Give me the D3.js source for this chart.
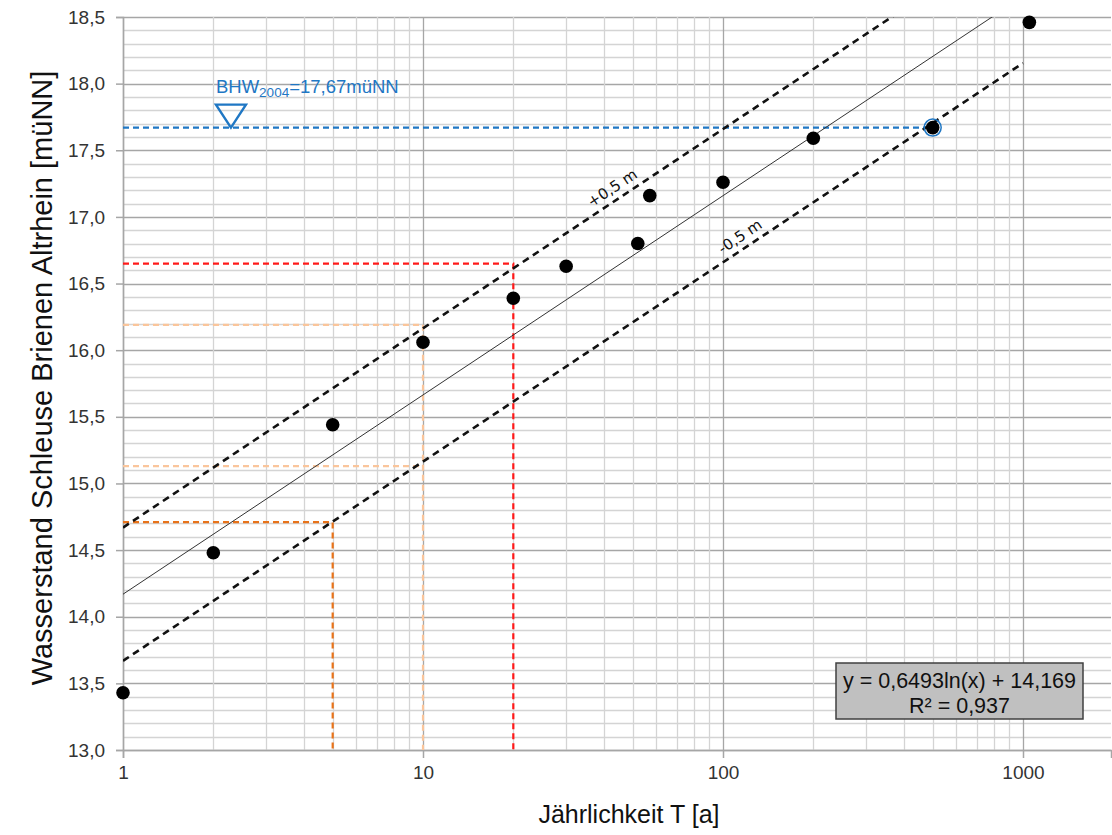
<!DOCTYPE html>
<html>
<head>
<meta charset="utf-8">
<title>Jährlichkeit</title>
<script src="https://d3js.org/d3.v7.min.js"></script>
<style>
  body { margin: 0; background: #fff; }
  svg { display: block; font-family: "Liberation Sans", Arial, sans-serif; }
</style>
</head>
<body>
<script>
// observed water levels vs. return period
var returnPeriods = [1, 2, 5, 10, 20, 30, 52, 57, 100, 200, 500, 1050];
var waterLevels   = [13.43, 14.48, 15.44, 16.06, 16.39, 16.63, 16.80, 17.16, 17.26, 17.59, 17.67, 18.46];

// fitted log trend y = a ln(x) + b, with +/- 0.5 m band
var trendA = 0.6493, trendB = 14.169;
var bandOffsets = [0.5, -0.5];
var bandLabels = ["+0,5 m", "-0,5 m"];
var bandLabelT = [45, 120];

// dashed read-off lines: [T, level]
var redMark = [20, 16.65];
var peachMarks = [[10, 16.19], [10, 15.13]];
var orangeMark = [5, 14.71];
var bhwLevel = 17.67, bhwT = 500, bhwSymbolT = 2.29;

var yTicks = [13.0, 13.5, 14.0, 14.5, 15.0, 15.5, 16.0, 16.5, 17.0, 17.5, 18.0, 18.5];
var xTicks = [1, 10, 100, 1000];

var W = 1112, H = 835;
var pLeft = 123, pRight = 1111, pTop = 17, pBottom = 750;

var svg = d3.select("body").append("svg").attr("width", W).attr("height", H);

var x = d3.scaleLog().domain([1, Math.pow(10, (pRight - pLeft) / 300)]).range([pLeft, pRight]);
var y = d3.scaleLinear().domain([13, 18.5]).range([pBottom, pTop]);

svg.append("clipPath").attr("id", "plot")
  .append("rect").attr("x", pLeft).attr("y", pTop).attr("width", pRight - pLeft).attr("height", pBottom - pTop);

// grid
var minorY = d3.range(130, 186).map(function(d){ return d / 10; });
svg.append("g").selectAll("line").data(minorY).enter().append("line")
  .attr("x1", pLeft).attr("x2", pRight)
  .attr("y1", function(d){ return Math.round(y(d)) + 0.5; })
  .attr("y2", function(d){ return Math.round(y(d)) + 0.5; })
  .attr("stroke", function(d){ return Math.abs(d * 2 - Math.round(d * 2)) < 1e-6 ? "#a6a6a6" : "#d4d4d4"; })
  .attr("stroke-width", 1.3);

var minorX = [];
[1, 10, 100].forEach(function(dec){ for (var k = 1; k <= 9; k++) minorX.push(dec * k); });
minorX.push(1000);
svg.append("g").selectAll("line").data(minorX).enter().append("line")
  .attr("y1", pTop).attr("y2", pBottom)
  .attr("x1", function(d){ return Math.round(x(d)) + 0.5; })
  .attr("x2", function(d){ return Math.round(x(d)) + 0.5; })
  .attr("stroke", function(d){ return xTicks.indexOf(d) >= 0 ? "#a6a6a6" : "#d4d4d4"; })
  .attr("stroke-width", 1.3);

// axes
var xAxis = svg.append("g").attr("transform", "translate(0," + pBottom + ")")
  .call(d3.axisBottom(x).tickValues(xTicks).tickFormat(d3.format("d")).tickSize(8).tickPadding(8));
var yAxis = svg.append("g").attr("transform", "translate(" + pLeft + ",0)")
  .call(d3.axisLeft(y).tickValues(yTicks).tickFormat(function(d){ return d.toFixed(1).replace(".", ","); }).tickSize(7).tickPadding(11));
[xAxis, yAxis].forEach(function(a){
  a.select(".domain").attr("stroke", "#a6a6a6").attr("stroke-width", 1.5);
  a.selectAll(".tick line").attr("stroke", "#a6a6a6").attr("stroke-width", 1.5);
  a.selectAll(".tick text").attr("fill", "#333").style("font-size", "19px")
    .style("font-family", "'Liberation Sans', Arial, sans-serif");
});

var plot = svg.append("g").attr("clip-path", "url(#plot)");

// read-off lines
function elbow(mark, color, width) {
  plot.append("path")
    .attr("d", "M" + x(1) + "," + y(mark[1]) + "H" + x(mark[0]) + "V" + y(13))
    .attr("fill", "none").attr("stroke", color).attr("stroke-width", width)
    .attr("stroke-dasharray", "6,4");
}
elbow(peachMarks[0], "#fac59b", 2.2);
plot.append("line")
  .attr("x1", x(1)).attr("x2", x(peachMarks[1][0]))
  .attr("y1", y(peachMarks[1][1])).attr("y2", y(peachMarks[1][1]))
  .attr("stroke", "#fac59b").attr("stroke-width", 2.2).attr("stroke-dasharray", "6,4");
elbow(orangeMark, "#e8731a", 2.2);
elbow(redMark, "#ff1a1a", 2.2);

// BHW line
plot.append("line")
  .attr("x1", x(1)).attr("x2", x(bhwT))
  .attr("y1", y(bhwLevel)).attr("y2", y(bhwLevel))
  .attr("stroke", "#1f77c4").attr("stroke-width", 2.2).attr("stroke-dasharray", "6,4");

// trend and band
function trend(t, off) { return trendA * Math.log(t) + trendB + off; }
var line = d3.line().x(function(d){ return x(d[0]); }).y(function(d){ return y(d[1]); });
plot.append("path").datum([[1, trend(1, 0)], [1000, trend(1000, 0)]])
  .attr("d", line).attr("fill", "none").attr("stroke", "#333").attr("stroke-width", 1);
bandOffsets.forEach(function(off){
  plot.append("path").datum([[1, trend(1, off)], [1000, trend(1000, off)]])
    .attr("d", line).attr("fill", "none").attr("stroke", "#111")
    .attr("stroke-width", 2.6).attr("stroke-dasharray", "7,5");
});

var angle = -Math.atan((y(trend(1, 0)) - y(trend(10, 0))) / (x(10) - x(1))) * 180 / Math.PI;
bandOffsets.forEach(function(off, i){
  var px = x(bandLabelT[i]), py = y(trend(bandLabelT[i], off));
  svg.append("text")
    .attr("transform", "translate(" + px + "," + py + ") rotate(" + angle + ") translate(0,-7)")
    .attr("text-anchor", "middle")
    .style("font-family", "'DejaVu Sans', sans-serif")
    .style("font-size", "15px").attr("fill", "#111")
    .text(bandLabels[i]);
});

// data points
svg.append("circle").attr("cx", x(bhwT)).attr("cy", y(bhwLevel)).attr("r", 8.5)
  .attr("fill", "none").attr("stroke", "#1f77c4").attr("stroke-width", 1.5);
svg.append("g").selectAll("circle").data(returnPeriods).enter().append("circle")
  .attr("cx", function(d){ return x(d); })
  .attr("cy", function(d, i){ return y(waterLevels[i]); })
  .attr("r", 6.8).attr("fill", "#000");

// BHW symbol + label
var sx = x(bhwSymbolT), sy = y(bhwLevel);
svg.append("path")
  .attr("d", "M" + (sx - 15) + "," + (sy - 23) + "H" + (sx + 15) + "L" + sx + "," + sy + "Z")
  .attr("fill", "none").attr("stroke", "#1f77c4").attr("stroke-width", 2.4).attr("stroke-linejoin", "miter");
var lbl = svg.append("text").attr("x", sx - 15).attr("y", sy - 35)
  .attr("fill", "#1f77c4").style("font-size", "18.5px");
lbl.append("tspan").text("BHW");
lbl.append("tspan").attr("dy", 4).style("font-size", "13.5px").text("2004");
lbl.append("tspan").attr("dy", -4).text("=" + bhwLevel.toFixed(2).replace(".", ",") + "müNN");

// regression box
var bx = 836, by = 663;
svg.append("rect").attr("x", bx).attr("y", by).attr("width", 247).attr("height", 56)
  .attr("fill", "#c0c0c0").attr("stroke", "#404040").attr("stroke-width", 1.5);
svg.append("text").attr("x", bx + 123.5).attr("y", by + 25).attr("text-anchor", "middle")
  .style("font-size", "21.5px").attr("fill", "#111")
  .text("y = " + String(trendA).replace(".", ",") + "ln(x) + " + String(trendB).replace(".", ","));
svg.append("text").attr("x", bx + 123.5).attr("y", by + 50).attr("text-anchor", "middle")
  .style("font-size", "21.5px").attr("fill", "#111")
  .text("R² = 0,937");

// axis titles
svg.append("text").attr("x", 629).attr("y", 823).attr("text-anchor", "middle")
  .style("font-size", "25px").attr("fill", "#111").text("Jährlichkeit T [a]");
svg.append("text").attr("transform", "translate(52,378) rotate(-90)").attr("text-anchor", "middle")
  .style("font-size", "29px").attr("fill", "#111").text("Wasserstand Schleuse Brienen Altrhein [müNN]");
</script>
</body>
</html>
